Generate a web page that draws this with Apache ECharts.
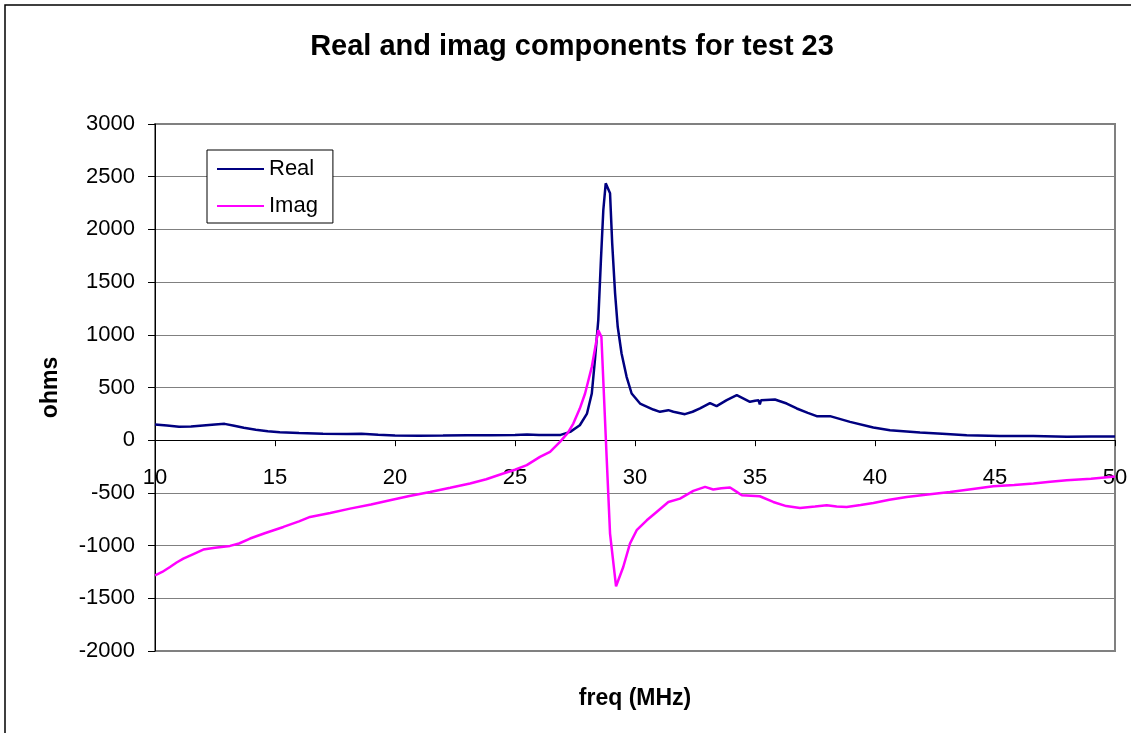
<!DOCTYPE html>
<html>
<head>
<meta charset="utf-8">
<script src="https://cdn.jsdelivr.net/npm/echarts@6/dist/echarts.min.js"></script>
<style>
html,body{margin:0;padding:0;background:#fff;}
#chart{width:1131px;height:733px;}
</style>
</head>
<body>
<div id="chart"></div>
<script>
var chartTitle = 'Real and imag components for test 23';
var xName = 'freq (MHz)';
var yName = 'ohms';
var seriesNames = ['Real', 'Imag'];

var realFreq = [10,10.5,11,11.5,12,12.5,12.9,13.3,13.7,14.2,14.7,15.2,16,17,18,18.6,19.3,20,21,22,23,24,25,25.5,26,26.9,27.3,27.7,28.0,28.2,28.33,28.47,28.58,28.68,28.78,28.86,28.96,29.05,29.17,29.28,29.44,29.65,29.86,30.21,30.76,31.04,31.39,31.6,32.08,32.4,32.71,33.125,33.4,33.82,34.24,34.79,35.0,35.15,35.2,35.25,35.83,36.32,36.74,37.2,37.57,38.125,38.96,39.93,40.625,41.875,42.8,43.82,45.2,46.6,48,49,50];
var realOhms = [150,140,128,130,140,150,155,138,118,100,85,75,68,62,60,62,52,45,43,44,46,48,50,55,50,50,79,142,253,443,760,1139,1709,2184,2437,2450,2342,1867,1393,1076,823,601,443,348,291,269,285,270,247,270,301,352,323,380,427,364,375,378,340,378,386,348,301,260,228,228,174,120,95,73,62,47,41,40,32,35,35];

var imagFreq = [10,10.3,10.625,10.9,11.18,11.6,12.01,12.5,13.125,13.5,13.96,14.6,15.35,16,16.46,17.3,18.125,19,19.79,20.6,21.46,22.3,23.125,23.8,24.51,25.0,25.49,26.04,26.46,26.875,27.2,27.43,27.7,27.92,28.2,28.47,28.6,28.82,28.96,29.21,29.51,29.79,30.07,30.49,30.9,31.39,31.875,32.43,32.92,33.26,33.6,33.96,34.24,34.45,35.2,35.76,36.3,36.875,37.5,37.99,38.4,38.82,39.4,39.93,40.6,41.32,42.2,43.125,44,44.93,45.8,46.6,47.3,47.99,49,50];
var imagOhms = [-1282,-1250,-1203,-1160,-1123,-1080,-1038,-1020,-1003,-980,-933,-880,-823,-770,-728,-690,-649,-610,-570,-530,-491,-452,-411,-370,-316,-280,-237,-158,-111,-16,70,158,300,443,696,1044,981,-170,-886,-1386,-1203,-981,-854,-760,-681,-586,-554,-481,-443,-468,-455,-449,-490,-522,-532,-586,-625,-643,-630,-617,-630,-633,-615,-595,-565,-538,-515,-491,-465,-437,-425,-411,-395,-380,-365,-345];

var yMin = -2000, yMax = 3000;

function pairs(xs, ys){ return xs.map(function(x,i){ return [x, ys[i]]; }); }

var FONT = 'Liberation Sans, Arial, sans-serif';
var gridTop = 124, gridBottom = 82, chartH = 733;
var plotH = chartH - gridTop - gridBottom;
// distance from plot bottom up to the zero line, via the y scale range
var zeroOffset = plotH * (0 - yMin) / (yMax - yMin);

var chart = echarts.init(document.getElementById('chart'));
chart.setOption({
  backgroundColor: '#ffffff',
  animation: false,
  graphic: [{
    type: 'rect', silent: true, z: -1,
    shape: {x: 5, y: 5, width: 1300, height: 900},
    style: {fill: 'none', stroke: '#000', lineWidth: 1.5}
  }],
  title: {
    text: chartTitle,
    left: 567, top: 27, textAlign: 'center',
    textStyle: {fontFamily: FONT, fontSize: 29, fontWeight: 'bold', color: '#000'}
  },
  legend: {
    orient: 'vertical',
    left: 207, top: 150,
    padding: [8, 15, 6, 9],
    itemWidth: 47, itemHeight: 22, itemGap: 15,
    itemStyle: {opacity: 0},
    backgroundColor: '#fff',
    borderColor: '#000', borderWidth: 1,
    textStyle: {fontFamily: FONT, fontSize: 22, color: '#000'},
    data: seriesNames
  },
  grid: {
    left: 155, right: 16, top: gridTop, bottom: gridBottom,
    containLabel: false, outerBoundsMode: 'none',
    show: true, borderColor: '#808080', borderWidth: 2, backgroundColor: '#fff'
  },
  xAxis: {
    type: 'value', min: 10, max: 50, interval: 5,
    position: 'bottom', offset: -zeroOffset,
    name: xName, nameLocation: 'middle', nameGap: 247,
    nameTextStyle: {fontFamily: FONT, fontSize: 23, fontWeight: 'bold', color: '#000'},
    axisLine: {onZero: false, lineStyle: {color: '#000', width: 1}},
    axisTick: {show: true, inside: false, length: 6, lineStyle: {color: '#000'}},
    axisLabel: {margin: 27, fontFamily: FONT, fontSize: 22, color: '#000',
      formatter: function(v){ return String(v); }},
    splitLine: {show: false}
  },
  yAxis: {
    type: 'value', min: yMin, max: yMax, interval: 500,
    name: yName, nameLocation: 'middle', nameGap: 93, nameRotate: 90,
    nameTextStyle: {fontFamily: FONT, fontSize: 23, fontWeight: 'bold', color: '#000'},
    axisLine: {show: true, lineStyle: {color: '#000', width: 1}},
    axisTick: {show: true, inside: false, length: 7, lineStyle: {color: '#000'}},
    axisLabel: {margin: 20, fontFamily: FONT, fontSize: 22, color: '#000',
      formatter: function(v){ return String(v); }},
    splitLine: {show: true, lineStyle: {color: '#808080', width: 1}}
  },
  series: [{
    name: seriesNames[0], type: 'line', data: pairs(realFreq, realOhms),
    symbol: 'none', lineStyle: {color: '#000080', width: 2.5}, itemStyle: {color: '#000080'}, z: 3
  }, {
    name: seriesNames[1], type: 'line', data: pairs(imagFreq, imagOhms),
    symbol: 'none', lineStyle: {color: '#FF00FF', width: 2.5}, itemStyle: {color: '#FF00FF'}, z: 4
  }]
});
</script>
</body>
</html>
